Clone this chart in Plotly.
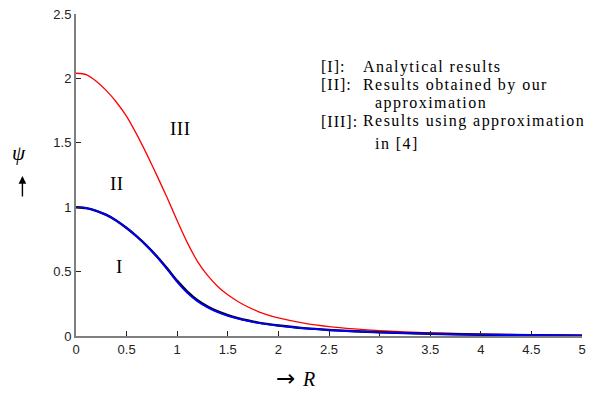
import plotly.graph_objects as go

# ---- data ----
R = [0.0, 0.1, 0.2, 0.3, 0.4, 0.5, 0.6, 0.7, 0.8, 0.9, 1.0, 1.1, 1.2, 1.3, 1.4,
     1.5, 1.6, 1.7, 1.8, 1.9, 2.0, 2.25, 2.5, 2.75, 3.0, 3.5, 4.0, 4.5, 5.0]

psi_analytical = [1.0, 0.993, 0.972, 0.94, 0.895, 0.838, 0.773, 0.70, 0.617, 0.525,
                  0.428, 0.345, 0.278, 0.229, 0.191, 0.162, 0.139, 0.12, 0.104,
                  0.092, 0.082, 0.061, 0.047, 0.037, 0.029, 0.017, 0.010, 0.006, 0.003]

psi_ours = [1.0, 0.993, 0.972, 0.94, 0.895, 0.838, 0.773, 0.70, 0.615, 0.52,
            0.42, 0.335, 0.27, 0.222, 0.185, 0.157, 0.135, 0.117, 0.102,
            0.09, 0.08, 0.06, 0.046, 0.036, 0.028, 0.017, 0.010, 0.006, 0.003]

psi_ref4 = [2.04, 2.03, 1.978, 1.905, 1.815, 1.705, 1.565, 1.41, 1.245, 1.075,
            0.895, 0.725, 0.58, 0.47, 0.385, 0.32, 0.268, 0.225, 0.19,
            0.163, 0.14, 0.10, 0.073, 0.055, 0.042, 0.025, 0.015, 0.009, 0.006]

x_ticks = [0, 0.5, 1, 1.5, 2, 2.5, 3, 3.5, 4, 4.5, 5]
x_tick_text = ["0", "0.5", "1", "1.5", "2", "2.5", "3", "3.5", "4", "4.5", "5"]
y_ticks = [0, 0.5, 1, 1.5, 2, 2.5]
y_tick_text = ["0", "0.5", "1", "1.5", "2", "2.5"]

legend_keys = ["[I]:", "[II]:", "[III]:"]
legend_texts = ["Analytical results", "Results obtained by our", "Results using approximation"]
legend_cont = ["approximation", "in [4]"]

# ---- layout geometry (pixels) ----
W, H = 593, 394
ML, MR, MT, MB = 76, 7, 12, 58
PW, PH = W - ML - MR, H - MT - MB


def px(x):
    return (x - ML) / PW


def py(y):
    return (H - MB - y) / PH


SERIF = "Liberation Serif, Times New Roman, serif"
SANS = "Liberation Sans, Arial, sans-serif"

fig = go.Figure()
fig.add_trace(go.Scatter(x=R, y=psi_ref4, mode="lines",
                         line=dict(color="#ff0000", width=1.3, shape="spline", smoothing=0.6),
                         showlegend=False, hoverinfo="skip"))
fig.add_trace(go.Scatter(x=R, y=psi_analytical, mode="lines",
                         line=dict(color="#000000", width=2.4, shape="spline", smoothing=0.6),
                         showlegend=False, hoverinfo="skip"))
fig.add_trace(go.Scatter(x=R, y=psi_ours, mode="lines",
                         line=dict(color="#0000ff", width=1.8, shape="spline", smoothing=0.6),
                         showlegend=False, hoverinfo="skip"))

ann = []


def txt(x, y, s, size, italic=False, xanchor="center", ls=None, family=SERIF):
    t = s if ls is None else '<span style="letter-spacing:%spx">%s</span>' % (ls, s)
    ann.append(dict(x=px(x), y=py(y), xref="paper", yref="paper", text=t, showarrow=False,
                    xanchor=xanchor, yanchor="middle",
                    font=dict(family=family, size=size, color="#000000",
                              style="italic" if italic else "normal")))


# curve labels
txt(181, 127, "III", 19, ls=0.5)
txt(117.5, 183, "II", 19, ls=0.5)
txt(119, 266, "I", 19)

# legend text block
rows = [65, 83, 120]
for k, t, yy in zip(legend_keys, legend_texts, rows):
    txt(321, yy, k, 16, xanchor="left", ls=1.0)
    txt(363, yy, t, 16, xanchor="left", ls=1.45)
txt(375, 102, legend_cont[0], 16, xanchor="left", ls=1.45)
txt(375, 142, legend_cont[1], 16, xanchor="left", ls=1.45)

# axis titles
txt(19, 152, "ψ", 21, italic=True)
txt(287, 378, "→", 23, family="DejaVu Sans, sans-serif")
txt(310, 379, "R", 20, italic=True)

# up arrow
ann.append(dict(x=px(22), y=py(175), xref="paper", yref="paper", ax=0, ay=22, axref="pixel", ayref="pixel",
                text="", showarrow=True, arrowhead=2, arrowsize=1.1, arrowwidth=1.4, arrowcolor="#000000"))

fig.update_layout(
    width=W, height=H,
    margin=dict(l=ML, r=MR, t=MT, b=MB),
    paper_bgcolor="white", plot_bgcolor="white",
    annotations=ann,
    xaxis=dict(range=[0, 5], tickvals=x_ticks, ticktext=x_tick_text, ticks="inside", ticklen=5,
               tickcolor="#222222", tickwidth=1, showline=True, linecolor="#808080", linewidth=2,
               showgrid=False, zeroline=False, tickfont=dict(family=SANS, size=13, color="#222222")),
    yaxis=dict(range=[0, 2.5], tickvals=y_ticks, ticktext=y_tick_text, ticks="inside", ticklen=5,
               tickcolor="#222222", tickwidth=1, showline=True, linecolor="#808080", linewidth=2,
               showgrid=False, zeroline=False, tickfont=dict(family=SANS, size=13, color="#222222")),
)

fig.write_html("out.html")
